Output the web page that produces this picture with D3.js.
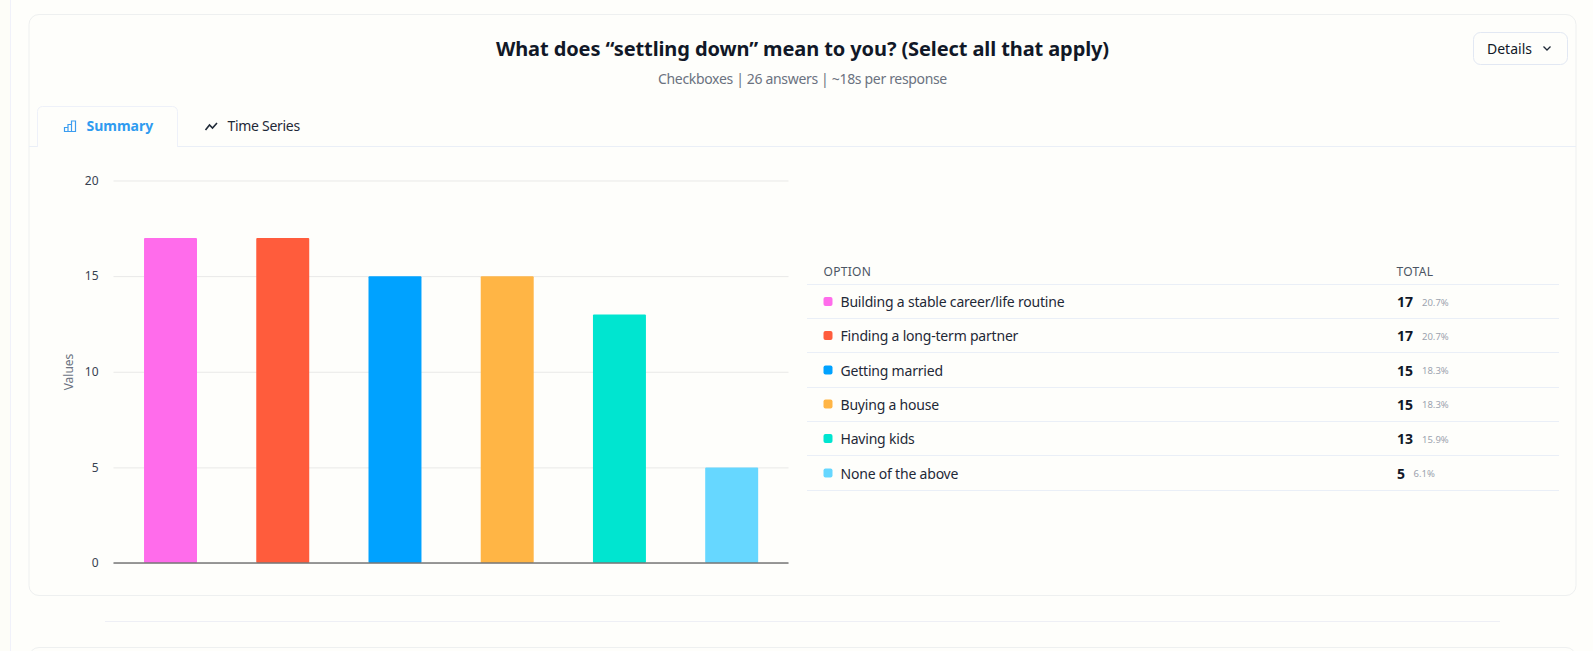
<!DOCTYPE html>
<html lang="en">
<head>
<meta charset="utf-8">
<title>Settling down</title>
<script src="https://cdn.jsdelivr.net/npm/d3@7"></script>
<style>
html, body { margin: 0; padding: 0; background: #fefefb; overflow: hidden; }
svg { display: block; font-family: "Noto Sans", sans-serif; }
</style>
</head>
<body>
<script>
// Chart data
var categories = ["Building a stable career/life routine", "Finding a long-term partner", "Getting married", "Buying a house", "Having kids", "None of the above"];
var values = [17, 17, 15, 15, 13, 5];
var percents = ["20.7%", "20.7%", "18.3%", "18.3%", "15.9%", "6.1%"];
var colors = ["#ff6ceb", "#ff5c3c", "#00a2ff", "#ffb545", "#00e5d0", "#66d7ff"];
var yTicks = [0, 5, 10, 15, 20];

var w = 1593, h = 651;
var lineColor = "#eaeff7";

var svg = d3.select("body").append("svg").attr("width", w).attr("height", h);

// Page edge and card
svg.append("rect").attr("width", 10.5).attr("height", h).attr("fill", "#fdfdf8");
svg.append("line").attr("x1", 10.5).attr("x2", 10.5).attr("y1", 0).attr("y2", h).attr("stroke", "#f0f1fa");
svg.append("rect").attr("x", 29).attr("y", 14.5).attr("width", 1547).attr("height", 581).attr("rx", 10)
	.attr("fill", "#fefefb").attr("stroke", "#eef0f0");
svg.append("line").attr("x1", 105).attr("x2", 1500).attr("y1", 621.5).attr("y2", 621.5).attr("stroke", "#eeeff5");
svg.append("rect").attr("x", 29).attr("y", 647.5).attr("width", 1547).attr("height", 60).attr("rx", 10)
	.attr("fill", "none").attr("stroke", "#eef0f0");

// Title block
svg.append("text").attr("x", 802.5).attr("y", 56).attr("text-anchor", "middle")
	.attr("font-size", 20).attr("letter-spacing", -0.1).attr("font-weight", 700).attr("fill", "#111827")
	.text("What does “settling down” mean to you? (Select all that apply)");
svg.append("text").attr("x", 802.5).attr("y", 84).attr("text-anchor", "middle")
	.attr("font-size", 14).attr("letter-spacing", -0.33).attr("fill", "#6b7280")
	.text("Checkboxes | 26 answers | ~18s per response");

// Details button
svg.append("rect").attr("x", 1473.5).attr("y", 32.5).attr("width", 94).attr("height", 32).attr("rx", 7)
	.attr("fill", "#fefefb").attr("stroke", "#e2e8f3");
svg.append("text").attr("x", 1487).attr("y", 54).attr("font-size", 14).attr("fill", "#111827").text("Details");
svg.append("path").attr("d", "M1543.500 46.500l3.500 3.500l3.500-3.500").attr("fill", "none").attr("stroke", "#1f2937").attr("stroke-width", 1.3);

// Tabs
svg.append("line").attr("x1", 29).attr("x2", 1576).attr("y1", 146.5).attr("y2", 146.5).attr("stroke", lineColor);
svg.append("path").attr("d", "M37.5 147V111.500a5 5 0 0 1 5-5H172.500a5 5 0 0 1 5 5V147")
	.attr("fill", "#fefefb").attr("stroke", "#eef1f9");
svg.append("rect").attr("x", 38).attr("y", 145).attr("width", 139).attr("height", 3).attr("fill", "#fefefb");
svg.append("path").attr("d", "M64.500 131.500v-4h3.500v4zM68 131.500v-7h3.500v7zM71.500 131.500v-10.500h4v10.500z")
	.attr("fill", "none").attr("stroke", "#3b9df0").attr("stroke-width", 1.2);
svg.append("text").attr("x", 86.5).attr("y", 131).attr("font-size", 14).attr("font-weight", 700).attr("fill", "#2f9bf0").text("Summary");
svg.append("path").attr("d", "M205.500 130l4-5l3 3l4.500-5").attr("fill", "none").attr("stroke", "#1f2937").attr("stroke-width", 1.6);
svg.append("text").attr("x", 227.5).attr("y", 131).attr("font-size", 14).attr("letter-spacing", -0.3).attr("fill", "#1f2937").text("Time Series");

// Scales
var xScale = d3.scaleBand().domain(categories).range([114.4, 787.8]).paddingInner(0.528).paddingOuter(0.264);
var yScale = d3.scaleLinear().domain([0, 20]).range([563, 180.5]);

// Y axis with gridlines
var yAxis = d3.axisLeft(yScale).tickValues(yTicks).tickSize(0).tickPadding(15);
var yG = svg.append("g").attr("transform", "translate(113.5,0)").call(yAxis);
yG.select(".domain").remove();
yG.selectAll("text").attr("font-size", 12).attr("font-family", "\"Noto Sans\", sans-serif").attr("fill", "#374151");
yG.selectAll("line").attr("x2", 675).attr("stroke", "#e9e9e7").attr("stroke-width", 1);

svg.append("text").attr("transform", "translate(73,372) rotate(-90)").attr("text-anchor", "middle")
	.attr("font-size", 12).attr("fill", "#6b7280").text("Values");

// Bars
svg.selectAll("rect.bar").data(categories).enter().append("rect").attr("class", "bar")
	.attr("x", function(d) { return xScale(d); })
	.attr("width", xScale.bandwidth())
	.attr("y", function(d, i) { return yScale(values[i]); })
	.attr("height", function(d, i) { return yScale(0) - yScale(values[i]); })
	.attr("rx", 1)
	.attr("fill", function(d, i) { return colors[i]; });

// Baseline
svg.append("line").attr("x1", 113.5).attr("x2", 788.5).attr("y1", 563).attr("y2", 563).attr("stroke", "#777").attr("stroke-width", 1.3);

// Table
var rowY = [301.5, 335.5, 370, 404, 438.5, 473];
var ruleY = [284.5, 318.5, 352.5, 387.5, 421.5, 455.5, 490.5];
svg.append("text").attr("x", 823.5).attr("y", 275.5).attr("font-size", 12).attr("letter-spacing", 0.3).attr("fill", "#4b5563").text("OPTION");
svg.append("text").attr("x", 1396.5).attr("y", 275.5).attr("font-size", 12).attr("letter-spacing", 0.3).attr("fill", "#4b5563").text("TOTAL");

svg.selectAll("line.rule").data(ruleY).enter().append("line").attr("class", "rule")
	.attr("x1", 807).attr("x2", 1559)
	.attr("y1", function(d) { return d; }).attr("y2", function(d) { return d; })
	.attr("stroke", lineColor);

var rows = svg.selectAll("g.row").data(categories).enter().append("g").attr("class", "row")
	.attr("transform", function(d, i) { return "translate(0," + rowY[i] + ")"; });
rows.append("rect").attr("x", 823.5).attr("y", -4.5).attr("width", 9).attr("height", 9).attr("rx", 2)
	.attr("fill", function(d, i) { return colors[i]; });
rows.append("text").attr("x", 840.5).attr("y", 5.5).attr("font-size", 14).attr("letter-spacing", -0.2).attr("fill", "#1f2937").text(function(d) { return d; });
rows.append("text").attr("x", 1397).attr("y", 5.5).attr("font-size", 14).attr("font-weight", 700).attr("fill", "#111827")
	.text(function(d, i) { return values[i]; });
rows.append("text").attr("x", function(d, i) { return values[i] < 10 ? 1413.5 : 1422; }).attr("y", 4)
	.attr("font-size", 9.5).attr("fill", "#9ca3af").text(function(d, i) { return percents[i]; });
</script>
</body>
</html>
